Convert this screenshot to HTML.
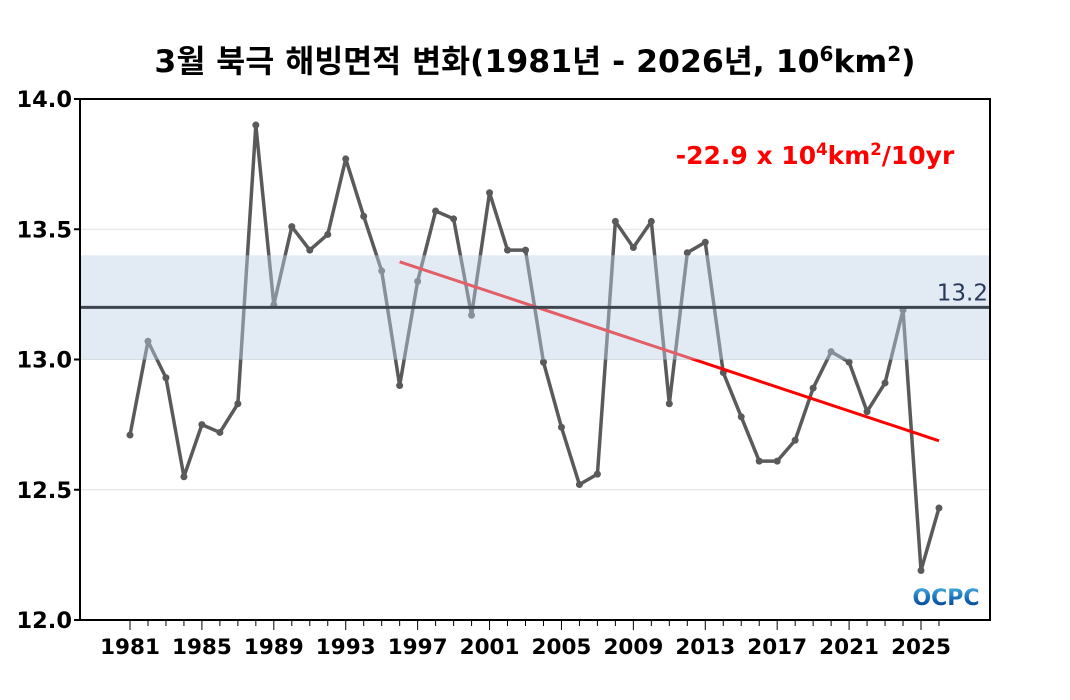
<!DOCTYPE html>
<html><head><meta charset="utf-8"><style>
body{margin:0;background:#fff;}
svg{display:block;font-family:"DejaVu Sans","Noto Sans CJK KR",sans-serif;}
</style></head><body>
<svg id="chart" width="1070" height="700">
<defs><linearGradient id="lg" x1="0" y1="0" x2="0" y2="1"><stop offset="0" stop-color="#4ab0e0"/><stop offset="0.6" stop-color="#1060b0"/><stop offset="1" stop-color="#0a3a80"/></linearGradient></defs>
<text x="535" y="72" text-anchor="middle" font-size="31.5" font-weight="bold">3월 북극 해빙면적 변화(1981년 - 2026년, 10<tspan dy="-11" font-size="20">6</tspan><tspan dy="11">km</tspan><tspan dy="-11" font-size="20">2</tspan><tspan dy="11">)</tspan></text>
<g id="grid"></g>
<g id="series"></g>
<g id="over"></g>
<rect x="80" y="99" width="910" height="521" fill="none" stroke="#000" stroke-width="2"/>
<g id="axes"></g>
<text x="815" y="164" text-anchor="middle" font-size="25" font-weight="bold" fill="#ff0000">-22.9 x 10<tspan dy="-9" font-size="16.5">4</tspan><tspan dy="9">km</tspan><tspan dy="-9" font-size="16.5">2</tspan><tspan dy="9">/10yr</tspan></text>
<text x="946" y="605" text-anchor="middle" font-size="22" font-weight="900" fill="url(#lg)">OCPC</text>
</svg>
<script>
const years=[];for(let y=1981;y<=2026;y++)years.push(y);
const values=[12.71,13.07,12.93,12.55,12.75,12.72,12.83,13.90,13.21,13.51,13.42,13.48,13.77,13.55,13.34,12.90,13.30,13.57,13.54,13.17,13.64,13.42,13.42,12.99,12.74,12.52,12.56,13.53,13.43,13.53,12.83,13.41,13.45,12.95,12.78,12.61,12.61,12.69,12.89,13.03,12.99,12.80,12.91,13.19,12.19,12.43];
const yTicks=[12.0,12.5,13.0,13.5,14.0];
const xTickYears=[1981,1985,1989,1993,1997,2001,2005,2009,2013,2017,2021,2025];
const meanVal=13.2, bandLow=13.0, bandHigh=13.4;
const trendStart=[1996,13.375], trendEnd=[2026,12.688];
const NS="http://www.w3.org/2000/svg";
const X=y=>130+(y-1981)*(921-130)/44;
const Y=v=>620-(v-12)*260.5;
function mk(p,t,a){const e=document.createElementNS(NS,t);for(const k in a)e.setAttribute(k,a[k]);document.getElementById(p).appendChild(e);return e;}
yTicks.forEach(t=>{
 if(t>12&&t<14){const g=mk('grid','line',{x1:80,x2:990,y1:Y(t),y2:Y(t),stroke:'#e0e0e0','stroke-width':1});
 
 }
 const tk=mk('axes','line',{x1:74,x2:80,y1:Y(t),y2:Y(t),stroke:'#000','stroke-width':2});
 
 
 const l=mk('axes','text',{x:72,y:Y(t)+8,'text-anchor':'end','font-size':22.5,'font-weight':'bold'});l.textContent=t.toFixed(1);
 
 
});
years.forEach(y=>{const tk=mk('axes','line',{x1:X(y),x2:X(y),y1:620,y2:(y-1981)%4==0?630:626,stroke:'#000','stroke-width':1});
 
 });
xTickYears.forEach(y=>{const l=mk('axes','text',{x:X(y),y:654,'text-anchor':'middle','font-size':21.5,'font-weight':'bold'});l.textContent=y;
 
 });
const pl=mk('series','polyline',{points:years.map((y,i)=>X(y)+','+Y(values[i])).join(' '),fill:'none',stroke:'#5a5a5a','stroke-width':3.5,'stroke-linejoin':'round'});


years.forEach((y,i)=>{const c=mk('series','circle',{cx:X(y),cy:Y(values[i]),r:3.5,fill:'#5a5a5a'});
 
 });
const tr=mk('series','line',{x1:X(trendStart[0]),y1:Y(trendStart[1]),x2:X(trendEnd[0]),y2:Y(trendEnd[1]),stroke:'#ff0000','stroke-width':3});


const b=mk('over','rect',{x:80,y:Y(bandHigh),width:910,height:Y(bandLow)-Y(bandHigh),fill:'rgb(190,210,230)','fill-opacity':0.45});


const m=mk('over','line',{x1:80,x2:990,y1:Y(meanVal),y2:Y(meanVal),stroke:'#3d4650','stroke-width':3});


const ml=mk('over','text',{x:988,y:Y(meanVal)-7,'text-anchor':'end','font-size':23,fill:'#2a3a5a'});ml.textContent=meanVal.toFixed(1);


</script>
</body></html>
